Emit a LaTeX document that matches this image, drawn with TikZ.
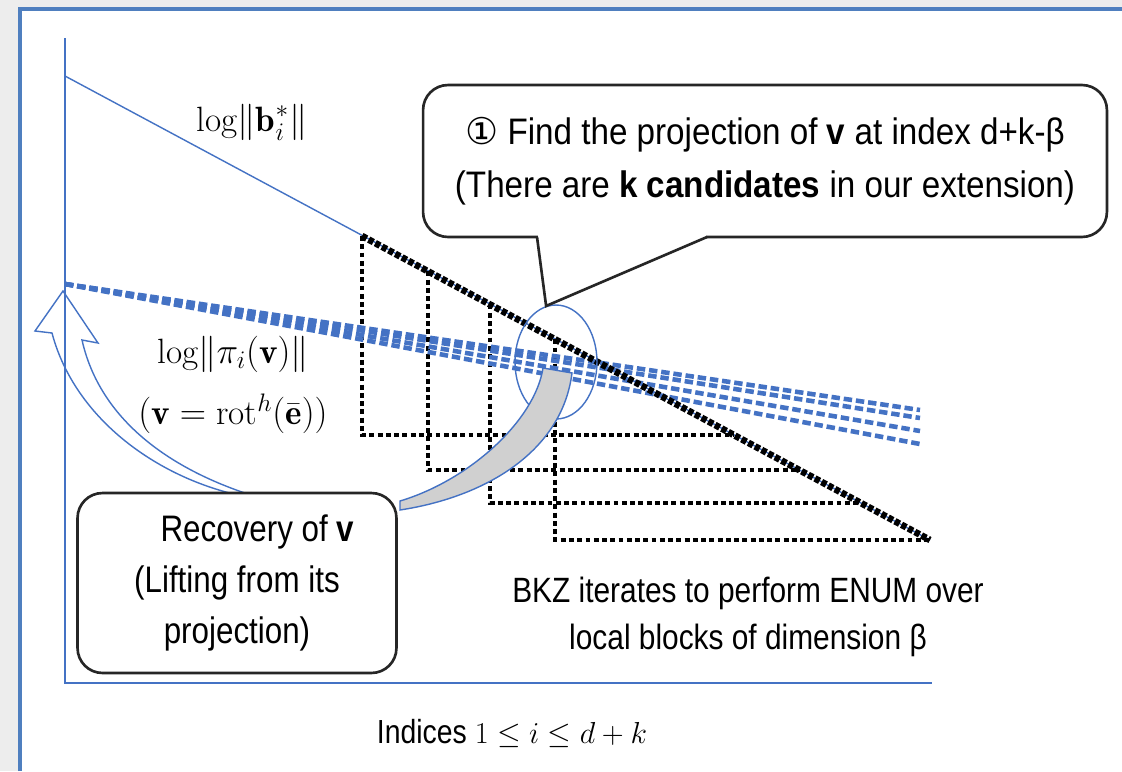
\documentclass[tikz,border=0pt]{standalone}
\usepackage{fontspec}
\usetikzlibrary{shapes.geometric}
\newfontfamily\narrowfont{Liberation Sans}[FakeStretch=0.85]
\newfontfamily\calloutfont{Liberation Sans}[FakeStretch=0.9]
\newfontfamily\symbolfont{DejaVu Sans}
\definecolor{axblue}{HTML}{4472C4}
\definecolor{frameblue}{HTML}{4F7FBF}
\definecolor{pagegray}{HTML}{EDEDED}
\definecolor{bandgray}{HTML}{D0D0D0}
\tikzset{axis/.style={draw=axblue,line width=0.8pt},blockline/.style={line width=2.6pt,dash pattern=on 2.8pt off 1.9pt},gsoline/.style={line width=3.8pt,dash pattern=on 3pt off 1.3pt},projline/.style={draw=axblue,line width=2.6pt,dash pattern=on 4.8pt off 2.2pt},roundbox/.style={draw=black!85,line width=1.5pt,rounded corners=0.5cm,fill=white,align=center},sflabel/.style={font=\narrowfont\fontsize{21}{29}\selectfont,align=center},mlabel/.style={font=\fontsize{20}{35}\selectfont,align=center}}

\begin{document}
\begin{tikzpicture}[x=0.02cm,y=-0.02cm]
\useasboundingbox (0,0) rectangle (1122,771);
% page and frame
\fill[pagegray] (0,0) rectangle (1122,771);
\fill[white] (20,9) rectangle (1122,771);
\draw[frameblue,line width=1.8pt] (20,771) -- (20,9) -- (1122,9);
% axes and GSO profile
\coordinate (ytop) at (65,38);\coordinate (O) at (65,683);\coordinate (xend) at (932,683);
\coordinate (b0) at (65,76);\coordinate (b1) at (362,236);\coordinate (bend) at (930,540);
\coordinate (p0) at (65,284);
\draw[axis] (ytop) -- (O) -- (xend);
\draw[axis] (b0) -- (bend);
\foreach \x/\y in {362/435,428/470,490/503,555/540}
  \draw[blockline] (\x,{236+(\x-362)*0.5352}) |- ({362+(\y-236)/0.5352},\y);
\foreach \e in {410,418,431,444}
  \draw[projline] (p0) -- (920,\e);
\draw[gsoline] (b1) -- (bend);
\node[draw=axblue,line width=0.8pt,ellipse,minimum width=1.64cm,minimum height=2.28cm,inner sep=0pt] (focus) at (556,362) {};
% lifting arrows
\draw[axblue,line width=0.8pt] (257,497) .. controls (170,470) and (100,420) .. (82,340) -- (98,343) -- (63,291) -- (35,331) -- (52,333) .. controls (75,420) and (160,480) .. (247,497);
\draw[axblue,line width=0.8pt,fill=bandgray] (543,368) -- (572,373) .. controls (562,452) and (485,497) .. (400,510) -- (400,501) .. controls (470,480) and (535,420) .. (543,368) -- cycle;
% boxes
\node[roundbox,sflabel,minimum width=6.38cm,minimum height=3.6cm] (recovery) at (237,583) {\hspace*{1.1em}Recovery of \textbf{v}\\(Lifting from its\\projection)};
\node[roundbox,minimum width=13.68cm,minimum height=3.04cm,font=\calloutfont\fontsize{21}{30}\selectfont] (callout) at (765,161) {{\symbolfont ①} Find the projection of \textbf{v} at index d+k-β\\(There are \textbf{k candidates} in our extension)};
\coordinate (ptl) at (537,237);\coordinate (ptr) at (707,237);
\fill[white] (538,234.5) rectangle (706,239.5);
\draw[black!85,line width=1.5pt] (ptl) -- (focus.100) -- (ptr);
% labels
\node[mlabel] (bstar) at (252,122) {$\mathrm{log}\|\mathbf{b}^*_i\|$};
\node[mlabel] (piv) at (233,385) {$\mathrm{log}\|\pi_i(\mathbf{v})\|$\\$(\mathbf{v}=\mathrm{rot}^h(\bar{\mathbf{e}}))$};
\node[font=\narrowfont\fontsize{20}{27}\selectfont,align=center] (bkz) at (748,617) {BKZ iterates to perform ENUM over\\local blocks of dimension β};
\node[font=\narrowfont\fontsize{19}{24}\selectfont] (indices) at (512,733) {Indices $1\le i\le d+k$};
\end{tikzpicture}
\end{document}
